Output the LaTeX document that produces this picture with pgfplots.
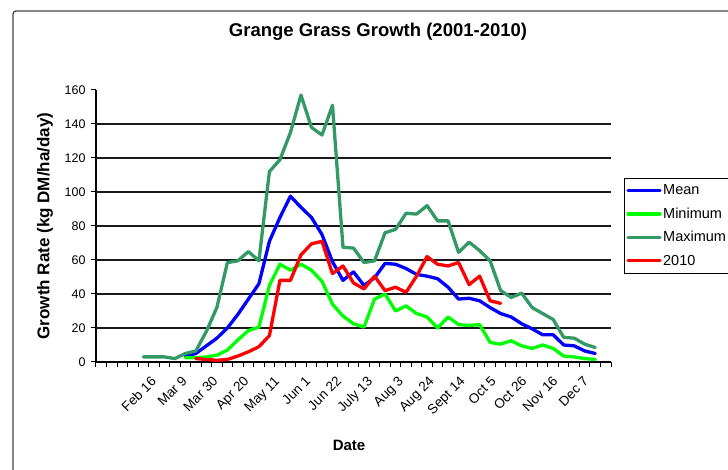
\documentclass[border=0pt]{standalone}
\usepackage{fontspec}
\setmainfont{Liberation Sans}
\usepackage{pgfplots}
\pgfplotsset{compat=1.18}
\definecolor{meanblue}{RGB}{0,0,255}
\definecolor{minlime}{RGB}{0,255,0}
\definecolor{maxgreen}{RGB}{51,153,102}
\definecolor{redten}{RGB}{255,0,0}
\definecolor{frame}{RGB}{70,70,70}
\begin{document}
\begin{tikzpicture}
\begin{axis}[
  scale only axis,
  width=515pt, height=272pt,
  xmin=-0.5, xmax=48.5, ymin=0, ymax=160,
  axis lines=left,
  axis line style={-, line width=1.2pt, black},
  tick align=outside,
  major tick length=0pt,
  minor tick length=5pt,
  every tick/.style={black, line width=1pt},
  minor xtick={-0.5,0.5,...,48.5},
  minor ytick={0,20,...,160},
  ytick={0,20,...,160},
  xtick={4.64,7.58,10.52,13.46,16.40,19.34,22.28,25.22,28.16,31.10,34.04,36.98,39.92,42.86,45.80},
  xticklabels={Feb 16,Mar 9,Mar 30,Apr 20,May 11,Jun 1,Jun 22,July 13,Aug 3,Aug 24,Sept 14,Oct 5,Oct 26,Nov 16,Dec 7},
  /pgf/number format/assume math mode=true,
  yticklabel style={font=\fontsize{12.5}{14}\selectfont, xshift=-7pt},
  xticklabel style={font=\fontsize{13.5}{15}\selectfont, yshift=-12pt, rotate=45, anchor=north east, inner sep=1pt},
  extra y ticks={20,40,...,140},
  extra y tick labels={},
  extra y tick style={grid=major},
  major grid style={black!90, line width=1.6pt},
  title={Grange Grass Growth (2001-2010)},
  title style={at={(0.5476,1.1912)}, anchor=center, yshift=0pt, font=\bfseries\fontsize{18.5}{21}\selectfont},
  ylabel={Growth Rate (kg DM/ha/day)},
  ylabel style={at={(-0.099,0.5)}, anchor=center, font=\bfseries\fontsize{17}{20}\selectfont},
  xlabel={Date},
  xlabel style={at={(0.4913,-0.3051)}, anchor=center, font=\bfseries\fontsize{15}{18}\selectfont},
  legend style={at={(1.0252,0.6765)}, anchor=north west, draw=black, line width=0.8pt,
    font=\fontsize{14.5}{16}\selectfont, inner xsep=2pt, inner ysep=5pt, row sep=8.5pt,
    nodes={inner sep=1.5pt}, cells={anchor=west}},
  legend image code/.code={\draw[#1] (0pt,0pt) -- (32pt,0pt);},
  every axis plot/.append style={line width=3.3pt, line join=round, line cap=round},
]
\addplot[meanblue] coordinates {
(8,3.5) (9,5) (10,9.5) (11,14) (12,20) (13,28) (14,37) (15,46) (16,71) (17,85)
(18,97.5) (19,91) (20,85) (21,75) (22,59) (23,48) (24,53) (25,45) (26,49.5) (27,58)
(28,57.5) (29,55) (30,51.5) (31,50.5) (32,49) (33,44) (34,37) (35,37.5) (36,36) (37,32)
(38,28.5) (39,26.5) (40,22.5) (41,19.5) (42,16) (43,16) (44,10) (45,9.5) (46,6.5) (47,5)
};
\addlegendentry{Mean}
\addplot[minlime] coordinates {
(8,2.5) (9,2.5) (10,3) (11,4) (12,7) (13,13) (14,18.5) (15,20.5) (16,45) (17,57.5)
(18,54) (19,57.5) (20,54) (21,47.5) (22,34) (23,27) (24,22.5) (25,20.5) (26,37) (27,40)
(28,30) (29,33) (30,28.5) (31,26.5) (32,20) (33,26.5) (34,22) (35,21.5) (36,22) (37,11.5)
(38,10.5) (39,12.5) (40,9.5) (41,8) (42,10) (43,8) (44,3.5) (45,3) (46,2) (47,1.5)
};
\addlegendentry{Minimum}
\addplot[maxgreen] coordinates {
(4,3) (5,3) (6,3) (7,2) (8,5) (9,6.5) (10,18) (11,32) (12,58.5) (13,59.5)
(14,65) (15,59.5) (16,112) (17,119) (18,135) (19,157) (20,138) (21,133.5) (22,151) (23,67.5)
(24,67) (25,58.5) (26,59.5) (27,76) (28,78) (29,87.5) (30,87) (31,92) (32,83) (33,83)
(34,64.5) (35,70.5) (36,65.5) (37,59.5) (38,42) (39,38) (40,40.5) (41,32) (42,28.5) (43,25)
(44,14.5) (45,14) (46,10.5) (47,8.5)
};
\addlegendentry{Maximum}
\addplot[redten] coordinates {
(9,2) (10,1.5) (11,1) (12,1.5) (13,3.5) (14,6) (15,9) (16,15.5) (17,48) (18,48)
(19,63) (20,69.5) (21,71) (22,52) (23,56.5) (24,46.5) (25,43) (26,50.5) (27,42) (28,44)
(29,41) (30,50.5) (31,62) (32,57.5) (33,56.5) (34,58.5) (35,45.5) (36,50.5) (37,36) (38,34.5)
};
\addlegendentry{2010}
\end{axis}
\draw[frame, line width=1.3pt, rounded corners=3pt] (-83pt,-130pt) -- (-83pt,351pt) -- (660pt,351pt);
\pgfresetboundingbox
\useasboundingbox (-96pt,-108pt) rectangle (632pt,362pt);
\end{tikzpicture}
\end{document}
